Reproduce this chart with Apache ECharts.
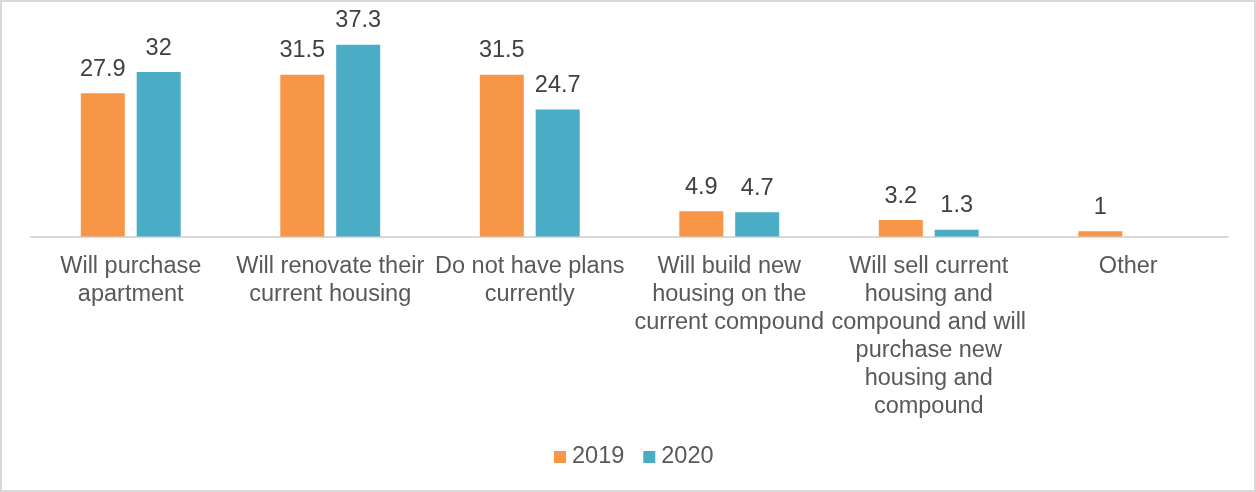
<!DOCTYPE html>
<html>
<head>
<meta charset="utf-8">
<script src="https://cdn.jsdelivr.net/npm/echarts@6/dist/echarts.min.js"></script>
<style>
  html, body { margin: 0; padding: 0; background: #fff; }
  #frame { width: 1256px; height: 492px; box-sizing: border-box; border: 2px solid #d9d9d9; position: relative; }
  #chart { position: absolute; left: -2px; top: -2px; width: 1256px; height: 492px; }
</style>
</head>
<body>
<div id="frame"><div id="chart"></div></div>
<script>
// Housing plans by year (%)
const categories = [
  'Will purchase\napartment',
  'Will renovate their\ncurrent housing',
  'Do not have plans\ncurrently',
  'Will build new\nhousing on the\ncurrent compound',
  'Will sell current\nhousing and\ncompound and will\npurchase new\nhousing and\ncompound',
  'Other'
];
const seriesNames = ['2019', '2020'];
const values2019 = [27.9, 31.5, 31.5, 4.9, 3.2, 1];
const values2020 = [32, 37.3, 24.7, 4.7, 1.3, null];

const font = '"Liberation Sans", Arial, sans-serif';
const textSize = 23.5;
const chart = echarts.init(document.getElementById('chart'));

function barSeries(name, data, color) {
  return {
    name: name,
    type: 'bar',
    data: data,
    barWidth: 44,
    barGap: '27%',
    itemStyle: { color: color },
    label: {
      show: true,
      position: 'top',
      distance: 12,
      color: '#404040',
      fontSize: textSize,
      fontFamily: font
    }
  };
}

chart.setOption({
  animation: false,
  textStyle: { fontFamily: font },
  grid: { left: 31, right: 28, top: 31, bottom: 255.5, containLabel: false },
  legend: {
    data: seriesNames,
    bottom: 18,
    left: 549,
    itemWidth: 12,
    itemHeight: 12,
    itemGap: 19,
    icon: 'rect',
    textStyle: { color: '#595959', fontSize: textSize, fontFamily: font, padding: [0, 0, 0, 1] }
  },
  xAxis: {
    type: 'category',
    data: categories,
    axisTick: { show: false },
    axisLine: { lineStyle: { color: '#d9d9d9', width: 2 } },
    axisLabel: {
      interval: 0,
      color: '#595959',
      fontSize: textSize,
      lineHeight: 28,
      margin: 16,
      fontFamily: font
    }
  },
  yAxis: {
    type: 'value',
    min: 0,
    max: 40,
    show: false,
    splitLine: { show: false }
  },
  series: [
    barSeries(seriesNames[0], values2019, '#F79646'),
    barSeries(seriesNames[1], values2020, '#4BACC6')
  ]
});
</script>
</body>
</html>
